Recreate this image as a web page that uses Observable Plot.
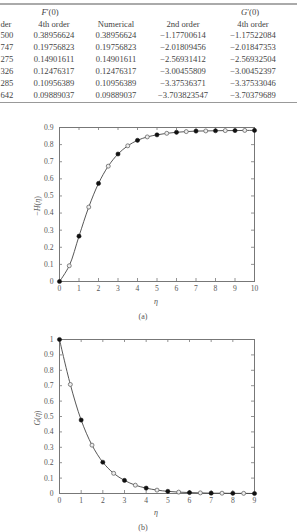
<!DOCTYPE html>
<html>
<head>
<meta charset="utf-8">
<script src="https://cdn.jsdelivr.net/npm/d3@7"></script>
<script src="https://cdn.jsdelivr.net/npm/@observablehq/plot@0.6"></script>
<style>
  html, body { margin: 0; padding: 0; background: #fff; }
  #page { position: relative; width: 297px; height: 532px; overflow: hidden; background: #fff;
          font-family: "Liberation Serif", "DejaVu Serif", serif; color: #444; }
  .cell { position: absolute; font-size: 8.6px; white-space: nowrap; transform: translate(-50%, -50%); line-height: 1; }
  .cellL { position: absolute; font-size: 8.6px; white-space: nowrap; transform: translate(0, -50%); line-height: 1; }
  .rule { position: absolute; left: 0; width: 297px; background: #aaa; }
  .svgbox { position: absolute; left: 0; }
  .lab { position: absolute; font-size: 8px; color: #555; white-space: nowrap; transform: translate(-50%, -50%); line-height: 1; }
  .ylab { position: absolute; font-size: 8px; color: #555; white-space: nowrap; transform: translate(-50%, -50%) rotate(-90deg); line-height: 1; }
</style>
</head>
<body>
<div id="page"></div>
<script>
// ---------- Table data ----------
const tableGroupHeaders = ["F\u2032(0)", "G\u2032(0)"];
const tableColHeaders = ["der", "4th order", "Numerical", "2nd order", "4th order"];
const firstColTail = ["500", "747", "275", "326", "285", "642"];
const f4th = ["0.38956624", "0.19756823", "0.14901611", "0.12476317", "0.10956389", "0.09889037"];
const fNumerical = ["0.38956624", "0.19756823", "0.14901611", "0.12476317", "0.10956389", "0.09889037"];
const g2nd = ["\u22121.17700614", "\u22122.01809456", "\u22122.56931412", "\u22123.00455809", "\u22123.37536371", "\u22123.703823547"];
const g4th = ["\u22121.17522084", "\u22122.01847353", "\u22122.56932504", "\u22123.00452397", "\u22123.37533046", "\u22123.70379689"];

// ---------- Chart (a): -H(eta) ----------
const etaA = [0, 0.5, 1, 1.5, 2, 2.5, 3, 3.5, 4, 4.5, 5, 5.5, 6, 6.5, 7, 7.5, 8, 8.5, 9, 9.5, 10];
const minusH = [0, 0.092, 0.265, 0.435, 0.573, 0.674, 0.745, 0.793, 0.825, 0.845, 0.857, 0.866, 0.872, 0.876, 0.879, 0.880, 0.881, 0.882, 0.882, 0.883, 0.883];
const xTicksA = [0, 1, 2, 3, 4, 5, 6, 7, 8, 9, 10];
const yTicksA = [0, 0.1, 0.2, 0.3, 0.4, 0.5, 0.6, 0.7, 0.8, 0.9];
const yLabelsA = ["0", "0.1", "0.2", "0.3", "0.4", "0.5", "0.6", "0.7", "0.8", "0.9"];

// ---------- Chart (b): G(eta) ----------
const etaB = [0, 0.5, 1, 1.5, 2, 2.5, 3, 3.5, 4, 4.5, 5, 5.5, 6, 6.5, 7, 7.5, 8, 8.5, 9];
const G = [1.0, 0.708, 0.477, 0.314, 0.203, 0.131, 0.085, 0.054, 0.035, 0.022, 0.014, 0.009, 0.006, 0.004, 0.002, 0.002, 0.001, 0.001, 0.0];
const xTicksB = [0, 1, 2, 3, 4, 5, 6, 7, 8, 9];
const yTicksB = [0, 0.1, 0.2, 0.3, 0.4, 0.5, 0.6, 0.7, 0.8, 0.9, 1];
const yLabelsB = ["0", "0.1", "0.2", "0.3", "0.4", "0.5", "0.6", "0.7", "0.8", "0.9", "1"];

const page = document.getElementById("page");

function addDiv(cls, text, x, y, html) {
  const d = document.createElement("div");
  d.className = cls;
  if (html) d.innerHTML = text; else d.textContent = text;
  d.style.left = x + "px";
  d.style.top = y + "px";
  page.appendChild(d);
  return d;
}

// ---------- Table ----------
const r1 = document.createElement("div"); r1.className = "rule";
r1.style.top = "2.5px"; r1.style.height = "2px"; page.appendChild(r1);
const r2 = document.createElement("div"); r2.className = "rule";
r2.style.top = "101.5px"; r2.style.height = "1px"; r2.style.background = "#999"; page.appendChild(r2);

addDiv("cell", "<i>F</i>\u2032(0)", 50, 12, true);
addDiv("cell", "<i>G</i>\u2032(0)", 250, 12, true);
const colX = [0.5, 54, 116, 183, 253];
addDiv("cellL", tableColHeaders[0], colX[0], 23.5);
for (let c = 1; c < 5; c++) addDiv("cell", tableColHeaders[c], colX[c], 23.5);
const rowY = [35, 47, 59, 71, 83, 95];
const cols = [f4th, fNumerical, g2nd, g4th];
rowY.forEach((y, r) => {
  addDiv("cellL", firstColTail[r], colX[0], y);
  cols.forEach((arr, c) => addDiv("cell", arr[r], colX[c + 1], y));
});

// ---------- Chart builder ----------
function chart({eta, vals, xTicks, yTicks, yLabels, xDomain, yDomain, height, marginTop, marginBottom}) {
  const data = eta.map((e, i) => ({eta: e, v: vals[i]}));
  const whole = data.filter(d => Number.isInteger(d.eta));
  const half = data.filter(d => !Number.isInteger(d.eta));
  const innerH = height - marginTop - marginBottom;
  const innerW = 297 - 59 - 43;
  const tk = 3;
  return Plot.plot({
    width: 297,
    height,
    marginLeft: 59,
    marginRight: 43,
    marginTop,
    marginBottom,
    style: {fontFamily: "Liberation Serif, DejaVu Serif, serif", fontSize: "7.6px", color: "#555", background: "transparent", overflow: "visible"},
    x: {domain: xDomain, label: null},
    y: {domain: yDomain, label: null},
    marks: [
      Plot.frame({stroke: "#777", strokeWidth: 1}),
      Plot.tickX(xTicks, {x: d => d, insetTop: innerH - tk, stroke: "#777", strokeWidth: 0.8}),
      Plot.tickX(xTicks, {x: d => d, insetBottom: innerH - tk, stroke: "#777", strokeWidth: 0.8}),
      Plot.tickY(yTicks, {y: d => d, insetRight: innerW - tk, stroke: "#777", strokeWidth: 0.8}),
      Plot.tickY(yTicks, {y: d => d, insetLeft: innerW - tk, stroke: "#777", strokeWidth: 0.8}),
      Plot.axisX({ticks: xTicks, tickSize: 0, tickPadding: 4, tickFormat: d => String(d), label: null}),
      Plot.axisY({ticks: yTicks, tickSize: 0, tickPadding: 6, tickFormat: (d, i) => yLabels[i], label: null}),
      Plot.line(data, {x: "eta", y: "v", curve: "catmull-rom", stroke: "#444", strokeWidth: 0.9}),
      Plot.dot(half, {x: "eta", y: "v", r: 2, stroke: "#666", strokeWidth: 0.8, fill: "#eee"}),
      Plot.dot(whole, {x: "eta", y: "v", r: 2.1, fill: "#111", stroke: "#111", strokeWidth: 0.5})
    ]
  });
}

const svgA = chart({eta: etaA, vals: minusH, xTicks: xTicksA, yTicks: yTicksA, yLabels: yLabelsA,
  xDomain: [0, 10], yDomain: [0, 0.9], height: 195, marginTop: 15, marginBottom: 26});
const boxA = document.createElement("div"); boxA.className = "svgbox"; boxA.style.top = "112px";
boxA.appendChild(svgA); page.appendChild(boxA);

const svgB = chart({eta: etaB, vals: G, xTicks: xTicksB, yTicks: yTicksB, yLabels: yLabelsB,
  xDomain: [0, 9], yDomain: [0, 1], height: 190, marginTop: 14, marginBottom: 22});
const boxB = document.createElement("div"); boxB.className = "svgbox"; boxB.style.top = "325px";
boxB.appendChild(svgB); page.appendChild(boxB);

// ---------- Axis labels & captions ----------
addDiv("ylab", "\u2212<i>H</i>(<i>\u03b7</i>)", 38, 206, true);
addDiv("lab", "<i>\u03b7</i>", 156, 301.5, true);
addDiv("lab", "(a)", 143, 316.5);
addDiv("ylab", "<i>G</i>(<i>\u03b7</i>)", 38, 418, true);
addDiv("lab", "<i>\u03b7</i>", 156, 513, true);
addDiv("lab", "(b)", 143, 528);
</script>
</body>
</html>
